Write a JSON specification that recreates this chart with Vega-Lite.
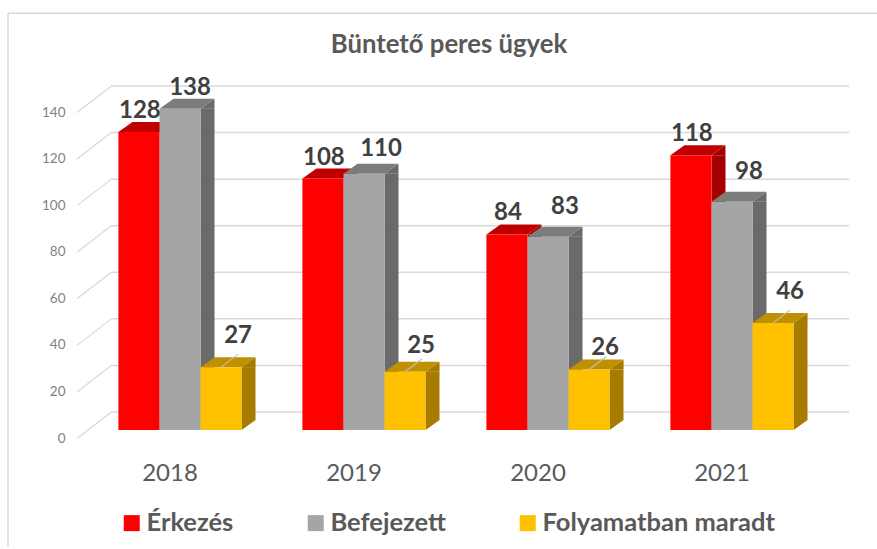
{
"$schema":"https://vega.github.io/schema/vega-lite/v6.json",
"autosize":{"type":"none"},
"padding":{"left":88,"top":104,"right":53,"bottom":119},
"width":736,"height":326,
"background":"white",
"title":{"text":"Büntető peres ügyek","font":"Lato","fontSize":25.7,"fontWeight":"bold","color":"#595959","anchor":"middle","dx":-7,"offset":-46},
"config":{"view":{"stroke":null},"font":"Lato"},
"datasets":{
"chart":[
{"year":"2018","series":"Érkezés","value":128},{"year":"2018","series":"Befejezett","value":138},{"year":"2018","series":"Folyamatban maradt","value":27},
{"year":"2019","series":"Érkezés","value":108},{"year":"2019","series":"Befejezett","value":110},{"year":"2019","series":"Folyamatban maradt","value":25},
{"year":"2020","series":"Érkezés","value":84},{"year":"2020","series":"Befejezett","value":83},{"year":"2020","series":"Folyamatban maradt","value":26},
{"year":"2021","series":"Érkezés","value":118},{"year":"2021","series":"Befejezett","value":98},{"year":"2021","series":"Folyamatban maradt","value":46}
],
"ticks":[{"tick":0},{"tick":20},{"tick":40},{"tick":60},{"tick":80},{"tick":100},{"tick":120},{"tick":140}],
"one":[{"frame":"keret"}]
},
"data":{"name":"chart"},
"resolve":{"scale":{"color":"shared"}},
"layer":[
{"data":{"name":"one"},"mark":{"type":"rule","color":"#D9D9D9","strokeWidth":1.5,"xOffset":-172,"x2Offset":145},
 "encoding":{"x":{"datum":"2018","type":"nominal","scale":{"domain":["2018","2019","2020","2021"],"paddingInner":0.33,"paddingOuter":0.165},"axis":{"title":null,"labelFontSize":24,"labelColor":"#595959","labelOffset":-10,"labelPadding":31,"labelAngle":0,"ticks":false,"domain":false,"labelFont":"Lato"}},"x2":{"datum":"2021"},"y":{"datum":179,"type":"quantitative","scale":{"domain":[0,140],"clamp":false},"axis":{"title":null,"values":[0,20,40,60,80,100,120,140],"grid":false,"ticks":false,"domain":false,"labelOffset":8,"labelPadding":23,"labelFontSize":13.5,"labelColor":"#7F7F7F","labelFont":"Lato"}}}},
{"data":{"name":"one"},"mark":{"type":"rule","color":"#D9D9D9","strokeWidth":1.5,"xOffset":-172},
 "encoding":{"x":{"datum":"2018","type":"nominal"},"y":{"datum":179,"type":"quantitative"},"y2":{"datum":-50}}},
{"data":{"name":"ticks"},"mark":{"type":"rule","color":"#D9D9D9","strokeWidth":1.5,"xOffset":-68,"x2Offset":117,"yOffset":-18},
 "encoding":{"x":{"datum":"2018","type":"nominal"},"x2":{"datum":"2021"},"y":{"field":"tick","type":"quantitative"}}},
{"data":{"name":"ticks"},"mark":{"type":"point","shape":"M-17.5 13.5L17.5 -13.5","size":4,"filled":false,"color":"#D9D9D9","strokeWidth":1.2,"opacity":1,"xOffset":-85.5,"yOffset":-5},
 "encoding":{"x":{"datum":"2018","type":"nominal"},"y":{"field":"tick","type":"quantitative"}}},

{"transform":[{"filter":"datum.series === 'Érkezés'"}],
 "encoding":{"x":{"field":"year","type":"nominal"},"y":{"field":"value","type":"quantitative","stack":null}},
 "layer":[
 {"mark":{"type":"bar","width":14,"xOffset":-13.5,"y2Offset":-10,"color":"#A50000"},"encoding":{"y2":{"datum":0}}},
 {"mark":{"type":"point","shape":"M20.5 0L34.5 -10L34.5 0Z","size":4,"filled":true,"color":"#A50000","strokeWidth":0,"opacity":1},"encoding":{"xOffset":{"field":"series","type":"nominal","scale":{"domain":["Érkezés","Befejezett","Folyamatban maradt"],"paddingInner":0,"paddingOuter":0}}}},
 {"mark":{"type":"point","shape":"M20.5 0L34.5 -10L20.5 -10Z","size":4,"filled":true,"color":"#A50000","strokeWidth":0,"opacity":1},"encoding":{"xOffset":{"field":"series","type":"nominal"},"y":{"datum":0}}},
 {"mark":{"type":"point","shape":"M-20.5 0L20.5 0L34.5 -10L-6.5 -10Z","size":4,"filled":true,"color":"#C00000","strokeWidth":0,"opacity":1},"encoding":{"xOffset":{"field":"series","type":"nominal"}}},
 {"mark":{"type":"bar","width":41},"encoding":{"xOffset":{"field":"series","type":"nominal"},"y2":{"datum":0},"color":{"field":"series","type":"nominal","scale":{"domain":["Érkezés","Befejezett","Folyamatban maradt"],"range":["#FF0000","#A5A5A5","#FFC000"]},"legend":{"orient":"none","legendX":31,"legendY":406,"direction":"horizontal","columns":3,"title":null,"symbolType":"square","symbolSize":256,"symbolStrokeWidth":0,"symbolOpacity":1,"labelFontSize":25.5,"labelFontWeight":"bold","labelColor":"#595959","labelFont":"Lato","labelOffset":2,"columnPadding":69,"labelLimit":400}}}}
 ]},
{"transform":[{"filter":"datum.series === 'Befejezett'"}],
 "encoding":{"x":{"field":"year","type":"nominal"},"y":{"field":"value","type":"quantitative","stack":null}},
 "layer":[
 {"mark":{"type":"bar","width":14,"xOffset":27.5,"y2Offset":-10,"color":"#6A6A6A"},"encoding":{"y2":{"datum":0}}},
 {"mark":{"type":"point","shape":"M20.5 0L34.5 -10L34.5 0Z","size":4,"filled":true,"color":"#6A6A6A","strokeWidth":0,"opacity":1},"encoding":{"xOffset":{"field":"series","type":"nominal"}}},
 {"mark":{"type":"point","shape":"M20.5 0L34.5 -10L20.5 -10Z","size":4,"filled":true,"color":"#6A6A6A","strokeWidth":0,"opacity":1},"encoding":{"xOffset":{"field":"series","type":"nominal"},"y":{"datum":0}}},
 {"mark":{"type":"point","shape":"M-20.5 0L20.5 0L34.5 -10L-6.5 -10Z","size":4,"filled":true,"color":"#7C7C7C","strokeWidth":0,"opacity":1},"encoding":{"xOffset":{"field":"series","type":"nominal"}}},
 {"mark":{"type":"bar","width":41},"encoding":{"xOffset":{"field":"series","type":"nominal"},"y2":{"datum":0},"color":{"field":"series","type":"nominal"}}}
 ]},
{"transform":[{"filter":"datum.series === 'Folyamatban maradt'"}],
 "encoding":{"x":{"field":"year","type":"nominal"},"y":{"field":"value","type":"quantitative","stack":null}},
 "layer":[
 {"mark":{"type":"bar","width":14,"xOffset":68.5,"y2Offset":-10,"color":"#A67C00"},"encoding":{"y2":{"datum":0}}},
 {"mark":{"type":"point","shape":"M20.5 0L34.5 -10L34.5 0Z","size":4,"filled":true,"color":"#A67C00","strokeWidth":0,"opacity":1},"encoding":{"xOffset":{"field":"series","type":"nominal"}}},
 {"mark":{"type":"point","shape":"M20.5 0L34.5 -10L20.5 -10Z","size":4,"filled":true,"color":"#A67C00","strokeWidth":0,"opacity":1},"encoding":{"xOffset":{"field":"series","type":"nominal"},"y":{"datum":0}}},
 {"mark":{"type":"point","shape":"M-20.5 0L20.5 0L34.5 -10L-6.5 -10Z","size":4,"filled":true,"color":"#BF9000","strokeWidth":0,"opacity":1},"encoding":{"xOffset":{"field":"series","type":"nominal"}}},
 {"mark":{"type":"bar","width":41},"encoding":{"xOffset":{"field":"series","type":"nominal"},"y2":{"datum":0},"color":{"field":"series","type":"nominal"}}},
 {"mark":{"type":"point","shape":"M0 0L17 -13","size":4,"filled":false,"color":"#BFBFBF","strokeWidth":1.2,"opacity":1},"encoding":{"xOffset":{"field":"series","type":"nominal"}}}
 ]},

{"transform":[{"filter":"datum.series === 'Érkezés'"}],"mark":{"type":"text","font":"Lato","fontSize":24,"fontWeight":"bold","color":"#404040","dx":1,"dy":-21},
 "encoding":{"x":{"field":"year","type":"nominal"},"xOffset":{"field":"series","type":"nominal"},"y":{"field":"value","type":"quantitative","stack":null},"text":{"field":"value","type":"quantitative"}}},
{"transform":[{"filter":"datum.series === 'Befejezett' && datum.value === 138"}],"mark":{"type":"text","font":"Lato","fontSize":24,"fontWeight":"bold","color":"#404040","dx":10,"dy":-21},
 "encoding":{"x":{"field":"year","type":"nominal"},"xOffset":{"field":"series","type":"nominal"},"y":{"field":"value","type":"quantitative","stack":null},"text":{"field":"value","type":"quantitative"}}},
{"transform":[{"filter":"datum.series === 'Befejezett' && datum.value === 110"}],"mark":{"type":"text","font":"Lato","fontSize":24,"fontWeight":"bold","color":"#404040","dx":17,"dy":-25},
 "encoding":{"x":{"field":"year","type":"nominal"},"xOffset":{"field":"series","type":"nominal"},"y":{"field":"value","type":"quantitative","stack":null},"text":{"field":"value","type":"quantitative"}}},
{"transform":[{"filter":"datum.series === 'Befejezett' && datum.value < 100"}],"mark":{"type":"text","font":"Lato","fontSize":24,"fontWeight":"bold","color":"#404040","dx":17,"dy":-30},
 "encoding":{"x":{"field":"year","type":"nominal"},"xOffset":{"field":"series","type":"nominal"},"y":{"field":"value","type":"quantitative","stack":null},"text":{"field":"value","type":"quantitative"}}},
{"transform":[{"filter":"datum.series === 'Folyamatban maradt' && (datum.value === 27 || datum.value === 46)"}],"mark":{"type":"text","font":"Lato","fontSize":24,"fontWeight":"bold","color":"#404040","dx":17,"dy":-31},
 "encoding":{"x":{"field":"year","type":"nominal"},"xOffset":{"field":"series","type":"nominal"},"y":{"field":"value","type":"quantitative","stack":null},"text":{"field":"value","type":"quantitative"}}},
{"transform":[{"filter":"datum.series === 'Folyamatban maradt' && datum.value === 25"}],"mark":{"type":"text","font":"Lato","fontSize":24,"fontWeight":"bold","color":"#404040","dx":16,"dy":-26},
 "encoding":{"x":{"field":"year","type":"nominal"},"xOffset":{"field":"series","type":"nominal"},"y":{"field":"value","type":"quantitative","stack":null},"text":{"field":"value","type":"quantitative"}}},
{"transform":[{"filter":"datum.series === 'Folyamatban maradt' && datum.value === 26"}],"mark":{"type":"text","font":"Lato","fontSize":24,"fontWeight":"bold","color":"#404040","dx":16,"dy":-21},
 "encoding":{"x":{"field":"year","type":"nominal"},"xOffset":{"field":"series","type":"nominal"},"y":{"field":"value","type":"quantitative","stack":null},"text":{"field":"value","type":"quantitative"}}}
]
}
